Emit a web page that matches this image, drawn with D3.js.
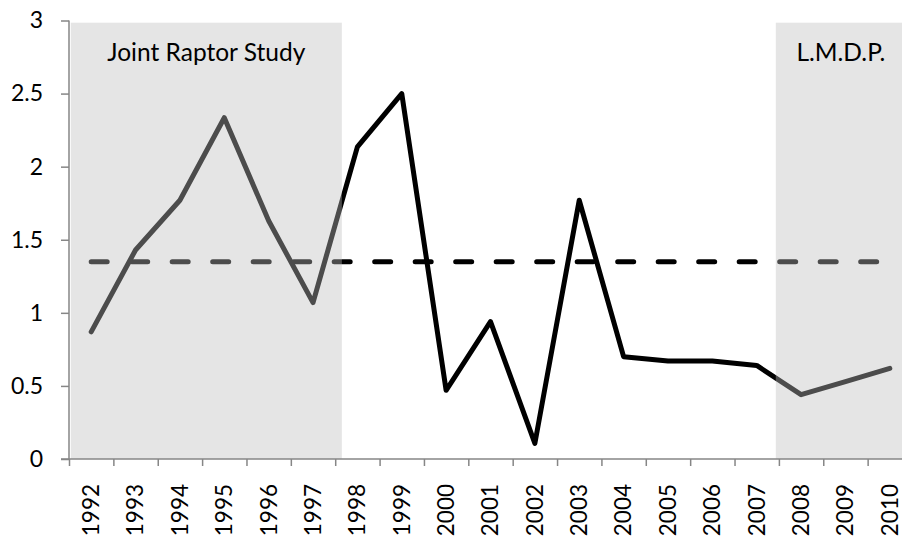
<!DOCTYPE html>
<html>
<head>
<meta charset="utf-8">
<script src="https://cdn.jsdelivr.net/npm/d3@7"></script>
<style>
  html, body { margin: 0; padding: 0; background: #ffffff; }
  svg { display: block; font-family: Lato, "Open Sans", sans-serif; }
</style>
</head>
<body>
<svg id="chart" width="902" height="538"></svg>
<script>
// ---- data ----
const years = ["1992","1993","1994","1995","1996","1997","1998","1999","2000","2001",
               "2002","2003","2004","2005","2006","2007","2008","2009","2010"];
const values = [0.87, 1.43, 1.77, 2.335, 1.63, 1.07, 2.135, 2.5, 0.47, 0.94,
                0.107, 1.77, 0.70, 0.67, 0.67, 0.64, 0.44, 0.53, 0.62];
const meanValue = 1.35;
const yTicks = [0, 0.5, 1, 1.5, 2, 2.5, 3];
const yTickLabels = ["0", "0.5", "1", "1.5", "2", "2.5", "3"];
// shaded study periods (in category-index units along the x axis)
const shadeLabels = ["Joint Raptor Study", "L.M.D.P."];
const shadeFrom = [0.04, 15.93];
const shadeTo = [6.15, 18.86];
const shadeTop = 2.985;

// ---- layout ----
const svg = d3.select("#chart");
const x = d3.scaleLinear().domain([0, years.length]).range([69, 912]);
const y = d3.scaleLinear().domain([0, 3]).range([459, 20.5]);
const cx = i => x(i + 0.5);
const axisColor = "#868686";

// main line
const line = d3.line().x((d, i) => cx(i)).y(d => y(d));
svg.append("path")
  .datum(values)
  .attr("d", line)
  .attr("fill", "none")
  .attr("stroke", "#000")
  .attr("stroke-width", 5)
  .attr("stroke-linejoin", "round")
  .attr("stroke-linecap", "round");

// mean dashed line
svg.append("line")
  .attr("x1", cx(0)).attr("x2", cx(years.length - 1))
  .attr("y1", y(meanValue)).attr("y2", y(meanValue))
  .attr("stroke", "#000")
  .attr("stroke-width", 5)
  .attr("stroke-linecap", "round")
  .attr("stroke-dasharray", "16,24.5");

// shaded periods (translucent overlay)
const shades = shadeLabels.map((label, i) => ({ label, from: shadeFrom[i], to: shadeTo[i] }));
svg.selectAll("rect.shade")
  .data(shades)
  .enter().append("rect")
  .attr("class", "shade")
  .attr("x", d => x(d.from))
  .attr("width", d => x(d.to) - x(d.from))
  .attr("y", y(shadeTop))
  .attr("height", y(0) - y(shadeTop))
  .attr("fill", "rgb(190,190,190)")
  .attr("fill-opacity", 0.4);

svg.selectAll("text.shadeLabel")
  .data(shades)
  .enter().append("text")
  .attr("class", "shadeLabel")
  .attr("x", d => (x(d.from) + x(d.to)) / 2)
  .attr("y", 61)
  .attr("text-anchor", "middle")
  .attr("font-size", 24.5)
  .attr("fill", "#000")
  .text(d => d.label);

// y axis
const yAxis = d3.axisLeft(y)
  .tickValues(yTicks)
  .tickFormat((d, i) => yTickLabels[i])
  .tickSize(8)
  .tickPadding(18);
const gy = svg.append("g").attr("transform", `translate(${x(0)},0)`).call(yAxis);
gy.select(".domain").attr("stroke", axisColor).attr("stroke-width", 1.5)
  .attr("d", `M0,${y(3)}V${y(0)}`);
gy.selectAll(".tick line").attr("stroke", axisColor).attr("stroke-width", 1.5);
gy.selectAll(".tick text")
  .attr("font-size", 23)
  .attr("font-family", "Lato, 'Open Sans', sans-serif")
  .attr("fill", "#000");

// x axis
const xTickPos = d3.range(0, years.length + 1);
const xAxis = d3.axisBottom(x)
  .tickValues(xTickPos)
  .tickFormat("")
  .tickSize(7)
  .tickSizeOuter(0);
const gx = svg.append("g").attr("transform", `translate(0,${y(0)})`).call(xAxis);
gx.select(".domain").attr("stroke", axisColor).attr("stroke-width", 1.5)
  .attr("d", `M${x(0) - 8},0H${x(years.length)}`);
gx.selectAll(".tick line").attr("stroke", axisColor).attr("stroke-width", 1.5);

// rotated year labels
svg.selectAll("text.year")
  .data(years)
  .enter().append("text")
  .attr("class", "year")
  .attr("transform", (d, i) => `translate(${cx(i)},484) rotate(-90)`)
  .attr("text-anchor", "end")
  .attr("dy", "0.35em")
  .attr("font-size", 22.5)
  .attr("fill", "#000")
  .text(d => d);
</script>
</body>
</html>
